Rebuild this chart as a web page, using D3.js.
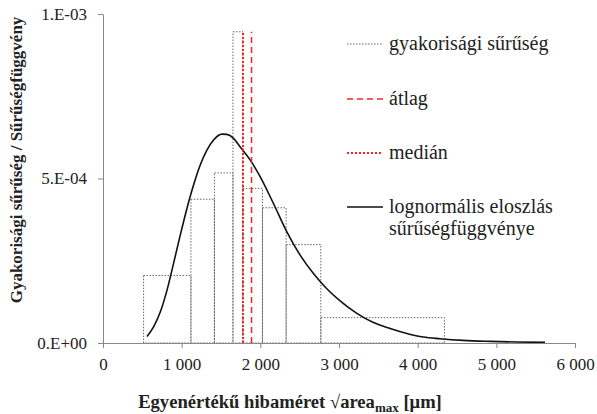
<!DOCTYPE html>
<html>
<head>
<meta charset="utf-8">
<script src="https://cdn.jsdelivr.net/npm/d3@7"></script>
<style>
  body { margin: 0; background: #fff; }
</style>
</head>
<body>
<svg width="597" height="414"></svg>
<script>
// histogram: bin edges and frequency density
var binEdges = [516, 1118, 1416, 1652, 1778, 2027, 2328, 2769, 4340];
var binDensity = [2.05e-4, 4.37e-4, 5.17e-4, 9.46e-4, 4.70e-4, 4.11e-4, 2.99e-4, 0.77e-4];

// mean and median
var meanValue = 1888;
var medianValue = 1780;
var markerTop = 9.46e-4;

// lognormal density curve
var curveX = [559, 643, 728, 813, 897, 982, 1067, 1151, 1236, 1321, 1405, 1512, 1575, 1659, 1744, 1872,
              1999, 2167, 2337, 2506, 2675, 2845, 3014, 3227, 3438, 3650, 3862, 4073, 4284, 4581, 4920, 5259, 5619];
var curveY = [0.20, 0.49, 0.94, 1.60, 2.42, 3.28, 4.09, 4.80, 5.41, 5.86, 6.17, 6.35, 6.34, 6.22, 5.96, 5.56,
              5.05, 4.24, 3.38, 2.67, 2.11, 1.65, 1.28, 0.90, 0.62, 0.44, 0.29, 0.18, 0.13, 0.08, 0.05, 0.03, 0.02];

var xTicks = [0, 1000, 2000, 3000, 4000, 5000, 6000];
var xTickLabels = ["0", "1 000", "2 000", "3 000", "4 000", "5 000", "6 000"];
var yTicks = [0, 5e-4, 1e-3];
var yTickLabels = ["0.E+00", "5.E-04", "1.E-03"];

var serif = "'Liberation Serif', 'Times New Roman', serif";

var svg = d3.select("svg").attr("font-family", serif),
    margin = {top: 14, right: 22, bottom: 71, left: 103},
    width = 597 - margin.left - margin.right,
    height = 414 - margin.top - margin.bottom,
    g = svg.append("g").attr("transform", "translate(" + margin.left + "," + margin.top + ")");

var x = d3.scaleLinear().domain([0, 6000]).range([0, width]);
var y = d3.scaleLinear().domain([0, 1e-3]).range([height, 0]);

// histogram bars
var bins = binDensity.map(function(d, i) { return {x0: binEdges[i], x1: binEdges[i + 1], v: d}; });
g.append("g")
  .selectAll("rect")
  .data(bins)
  .enter().append("rect")
    .attr("x", function(d) { return x(d.x0); })
    .attr("y", function(d) { return y(d.v); })
    .attr("width", function(d) { return x(d.x1) - x(d.x0); })
    .attr("height", function(d) { return y(0) - y(d.v); })
    .attr("fill", "none")
    .attr("stroke", "#666")
    .attr("stroke-width", 1)
    .attr("stroke-dasharray", "1.5,1.5");

// lognormal curve
var pts = curveX.map(function(d, i) { return [d, curveY[i] * 1e-4]; });
g.append("path")
  .datum(pts)
  .attr("fill", "none")
  .attr("stroke", "#111")
  .attr("stroke-width", 1.6)
  .attr("d", d3.line()
    .x(function(d) { return x(d[0]); })
    .y(function(d) { return y(d[1]); })
    .curve(d3.curveMonotoneX));

// mean / median lines
g.append("line")
  .attr("x1", x(meanValue)).attr("x2", x(meanValue))
  .attr("y1", y(0)).attr("y2", y(markerTop))
  .attr("stroke", "#ff2020").attr("stroke-width", 1.5)
  .attr("stroke-dasharray", "6,4");
g.append("line")
  .attr("x1", x(medianValue)).attr("x2", x(medianValue))
  .attr("y1", y(0)).attr("y2", y(markerTop))
  .attr("stroke", "#ff2020").attr("stroke-width", 2)
  .attr("stroke-dasharray", "2,2");

// axes
var xAxis = g.append("g")
  .attr("transform", "translate(0," + height + ")")
  .call(d3.axisBottom(x).tickValues(xTicks).tickSize(5).tickSizeOuter(0)
    .tickFormat(function(d, i) { return xTickLabels[i]; }));
var yAxis = g.append("g")
  .call(d3.axisLeft(y).tickValues(yTicks).tickSize(5).tickSizeOuter(0)
    .tickFormat(function(d, i) { return yTickLabels[i]; }));

[xAxis, yAxis].forEach(function(a) {
  a.attr("font-family", serif).attr("font-size", 17);
  a.select(".domain").attr("stroke", "#888");
  a.selectAll(".tick line").attr("stroke", "#888");
  a.selectAll(".tick text").attr("fill", "#222");
});
xAxis.selectAll(".tick text").attr("y", 15);
yAxis.selectAll(".tick text").attr("x", -16);

// axis titles
svg.append("text")
  .attr("transform", "translate(22,160) rotate(-90)")
  .attr("text-anchor", "middle")
  .attr("font-size", 17)
  .attr("font-weight", "bold")
  .attr("fill", "#222")
  .text("Gyakorisági sűrűség / Sűrűségfüggvény");

var xt = svg.append("text")
  .attr("x", 290)
  .attr("y", 408)
  .attr("text-anchor", "middle")
  .attr("font-size", 18.6)
  .attr("font-weight", "bold")
  .attr("fill", "#222");
xt.append("tspan").text("Egyenértékű hibaméret √area");
xt.append("tspan").attr("dy", 4).attr("font-size", 13).text("max");
xt.append("tspan").attr("dy", -4).text(" [μm]");

// legend
var legendKeys = ["gyakorisági sűrűség", "átlag", "medián", "lognormális eloszlás"];
var legendY = [44, 99, 153, 207];
var legendStyle = [
  {stroke: "#666", dash: "1.5,1.5", w: 1},
  {stroke: "#ff2020", dash: "6,4", w: 1.5},
  {stroke: "#ff2020", dash: "2,2", w: 2},
  {stroke: "#111", dash: null, w: 1.6}
];

var legend = svg.append("g")
  .attr("font-size", 20)
  .attr("fill", "#222")
  .selectAll("g")
  .data(legendKeys)
  .enter().append("g")
    .attr("transform", function(d, i) { return "translate(347," + legendY[i] + ")"; });

legend.append("line")
  .attr("x1", 0).attr("x2", 36)
  .attr("stroke", function(d, i) { return legendStyle[i].stroke; })
  .attr("stroke-width", function(d, i) { return legendStyle[i].w; })
  .attr("stroke-dasharray", function(d, i) { return legendStyle[i].dash; });

legend.append("text")
  .attr("x", 42)
  .attr("dy", "0.32em")
  .text(function(d) { return d; });

svg.append("text")
  .attr("x", 389)
  .attr("y", 229)
  .attr("dy", "0.32em")
  .attr("font-size", 20)
  .attr("fill", "#222")
  .text("sűrűségfüggvénye");
</script>
</body>
</html>
